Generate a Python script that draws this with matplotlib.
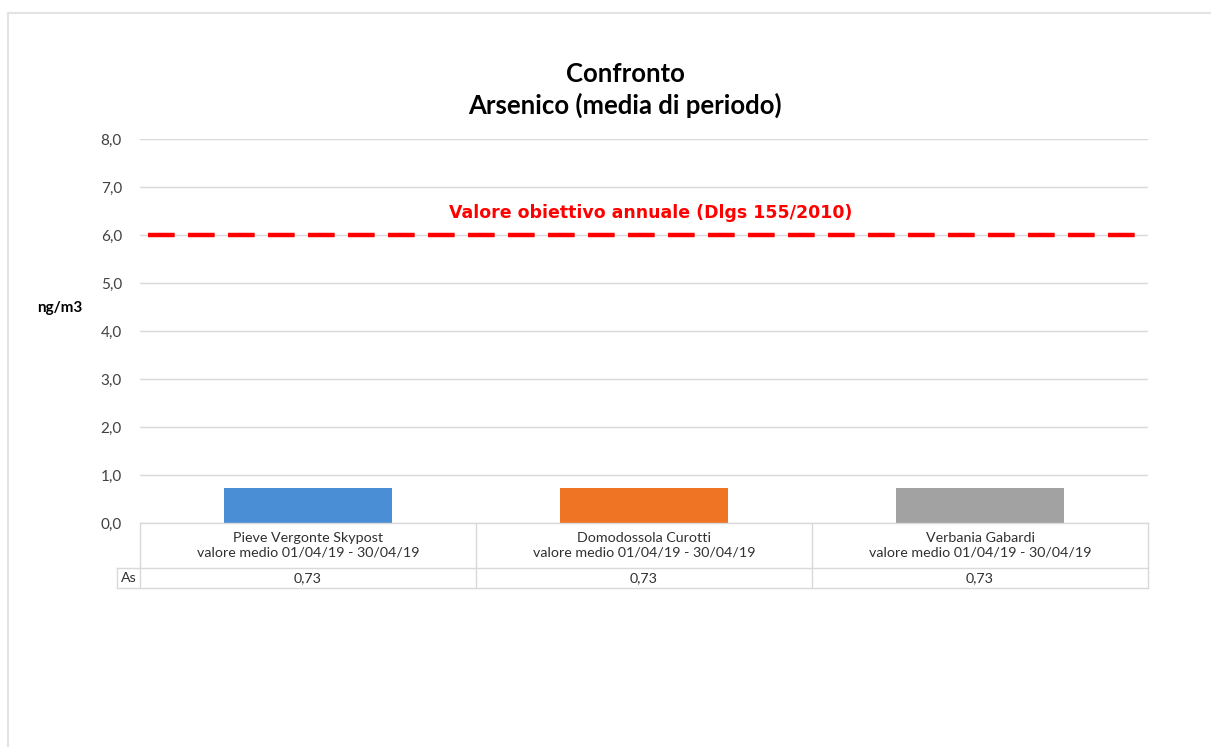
import numpy as np
import matplotlib
matplotlib.use("Agg")
import matplotlib.pyplot as plt
from matplotlib.lines import Line2D

# --- data -------------------------------------------------------------
stations = ["Pieve Vergonte Skypost", "Domodossola Curotti", "Verbania Gabardi"]
period_label = "valore medio 01/04/19 - 30/04/19"
values = [0.73, 0.73, 0.73]
row_label = "As"
bar_colors = ["#4a8fd6", "#ef7424", "#a2a2a2"]
limit_value = 6.0
limit_label = "Valore obiettivo annuale (Dlgs 155/2010)"
y_ticks = [0, 1, 2, 3, 4, 5, 6, 7, 8]

plt.rcParams["font.family"] = ["Lato", "DejaVu Sans"]

W, H = 1211, 747
fig = plt.figure(figsize=(W / 100, H / 100), dpi=100)

# outer chart frame (light gray, cut off at right/bottom)
fig.add_artist(Line2D([8 / W, 1.0], [1 - 13 / H, 1 - 13 / H], color="#e3e3e3", lw=1.5))
fig.add_artist(Line2D([8 / W, 8 / W], [0, 1 - 13 / H], color="#e3e3e3", lw=1.5))

left, right, top, bottom = 140, 1148, 139, 523
ax = fig.add_axes([left / W, 1 - bottom / H, (right - left) / W, (bottom - top) / H])

x = np.arange(len(stations))
ax.bar(x, values, width=0.5, color=bar_colors, zorder=2)

ax.set_xlim(-0.5, len(stations) - 0.5)
ax.set_ylim(0, 8)
ax.set_yticks(y_ticks)
ax.set_yticklabels([f"{v:.1f}".replace(".", ",") for v in y_ticks], fontsize=11, color="#404040")
ax.set_xticks([])
ax.tick_params(axis="y", length=0, pad=13)
for s in ax.spines.values():
    s.set_visible(False)
ax.grid(axis="y", color="#d9d9d9", lw=1, zorder=0)

# target line
ax.axhline(limit_value, xmin=8 / (right - left), color="#ff0000", lw=3.2,
           dashes=(6, 3), zorder=3)
ax.text(1.02, 6.45, limit_label, color="#ff0000", fontsize=12.5, fontweight="bold",
        ha="center", va="center", family=["DejaVu Sans"])

# title & y label
fig.text(625 / W, 1 - 74 / H, "Confronto", ha="center", va="center",
         fontsize=18.5, fontweight="bold")
fig.text(625 / W, 1 - 105 / H, "Arsenico (media di periodo)", ha="center", va="center",
         fontsize=18.5, fontweight="bold")
fig.text(60 / W, 1 - 308 / H, "ng/m3", ha="center", va="center", fontsize=11,
         fontweight="bold")

# data table under the axis
ph = bottom - top
r1 = -45 / ph
r2 = -65 / ph
trans = ax.get_xaxis_transform()
lc = "#d9d9d9"
as_left = -0.5 - 23 / ((right - left) / 3)
for yy, x0 in [(0, -0.5), (r1, as_left), (r2, as_left)]:
    ax.add_line(Line2D([x0, 2.5], [yy, yy], transform=trans, color=lc, lw=1, clip_on=False))
for i in range(len(stations) + 1):
    ax.add_line(Line2D([i - 0.5, i - 0.5], [0, r2], transform=trans,
                       color=lc, lw=1, clip_on=False))
ax.add_line(Line2D([as_left, as_left], [r1, r2], transform=trans, color=lc, lw=1, clip_on=False))

for i, name in enumerate(stations):
    ax.text(i, r1 / 2, f"{name}\n{period_label}", transform=trans, ha="center",
            va="center", fontsize=10.3, color="#303030", linespacing=1.2)
    ax.text(i, (r1 + r2) / 2, f"{values[i]:.2f}".replace(".", ","), transform=trans,
            ha="center", va="center", fontsize=10.3, color="#303030")
ax.text((as_left - 0.5) / 2, (r1 + r2) / 2, row_label, transform=trans, ha="center",
        va="center", fontsize=10.3, color="#303030")

fig.savefig("out.png", dpi=100)
